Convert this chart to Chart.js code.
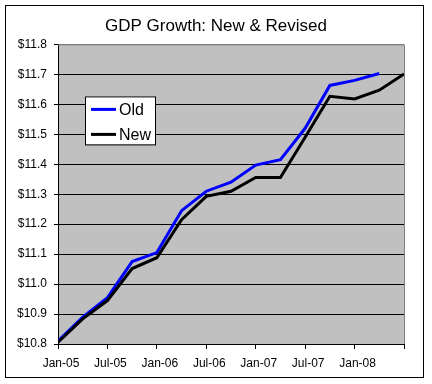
<!DOCTYPE html>
<html>
<head>
<meta charset="utf-8">
<script src="https://cdn.jsdelivr.net/npm/chart.js@4"></script>
<style>
  body { margin: 0; background: #fff; }
  #wrap { width: 432px; height: 384px; }
</style>
</head>
<body>
<div id="wrap"><canvas id="gdpChart" width="432" height="384"></canvas></div>
<script>
// months since Jan-05, one point per quarter
const months = [0, 3, 6, 9, 12, 15, 18, 21, 24, 27, 30, 33, 36, 39, 42];
const tickLabels = ["Jan-05", "Jul-05", "Jan-06", "Jul-06", "Jan-07", "Jul-07", "Jan-08"];
const oldGdp = [10.81, 10.89, 10.955, 11.075, 11.105, 11.245, 11.31, 11.34, 11.397, 11.415, 11.52, 11.663, 11.68, 11.703];
const newGdp = [10.806, 10.884, 10.945, 11.052, 11.088, 11.215, 11.293, 11.31, 11.356, 11.356, 11.49, 11.627, 11.618, 11.647, 11.701];

const FONT = "'Liberation Sans', Arial, sans-serif";

function toPoints(values) {
  return values.map((v, i) => ({ x: months[i], y: v }));
}

const frame = {
  id: "frame",
  beforeDraw(chart) {
    const { ctx, chartArea: a } = chart;
    ctx.save();
    ctx.fillStyle = "#fff";
    ctx.fillRect(0, 0, chart.width, chart.height);
    ctx.fillStyle = "#c0c0c0";
    ctx.fillRect(a.left, a.top, a.right - a.left, a.bottom - a.top);
    ctx.restore();
  },
  afterDraw(chart) {
    const { ctx, chartArea: a } = chart;
    ctx.save();
    // plot border top/right
    ctx.strokeStyle = "#808080";
    ctx.lineWidth = 1;
    ctx.beginPath();
    ctx.moveTo(a.left, a.top + 0.5);
    ctx.lineTo(a.right + 0.5, a.top + 0.5);
    ctx.lineTo(a.right + 0.5, a.bottom);
    ctx.stroke();

    // legend box inside the plot
    const lx = a.left + 27, ly = a.top + 52, lw = 70, lh = 48;
    ctx.fillStyle = "#fff";
    ctx.fillRect(lx, ly, lw, lh);
    ctx.strokeStyle = "#000";
    ctx.strokeRect(lx + 0.5, ly + 0.5, lw, lh);
    ctx.font = "16px " + FONT;
    ctx.textBaseline = "middle";
    chart.data.datasets.forEach((ds, i) => {
      const y = ly + 13 + i * 25;
      ctx.strokeStyle = ds.borderColor;
      ctx.lineWidth = 3;
      ctx.beginPath();
      ctx.moveTo(lx + 6, y);
      ctx.lineTo(lx + 31, y);
      ctx.stroke();
      ctx.fillStyle = "#000";
      ctx.fillText(ds.label, lx + 34, y + 1);
    });

    // outer chart border
    ctx.strokeStyle = "#000";
    ctx.lineWidth = 1;
    ctx.strokeRect(5.5, 5.5, 418, 372);
    ctx.restore();
  }
};

new Chart(document.getElementById("gdpChart"), {
  type: "line",
  data: {
    datasets: [
      {
        label: "Old",
        data: toPoints(oldGdp),
        borderColor: "#0000ff",
        borderWidth: 3,
        pointRadius: 0,
        tension: 0,
        order: 1
      },
      {
        label: "New",
        data: toPoints(newGdp),
        borderColor: "#000000",
        borderWidth: 3,
        pointRadius: 0,
        tension: 0,
        order: 0
      }
    ]
  },
  options: {
    responsive: false,
    animation: false,
    layout: { padding: 0 },
    plugins: {
      legend: { display: false },
      tooltip: { enabled: false },
      title: {
        display: true,
        text: "GDP Growth: New & Revised",
        color: "#000",
        font: { family: FONT, size: 17, weight: "normal" },
        padding: { top: 16, bottom: 8 }
      }
    },
    scales: {
      x: {
        type: "linear",
        min: 0,
        max: 42,
        afterFit(scale) { scale.height = 40; },
        afterBuildTicks(scale) {
          scale.ticks = [0, 6, 12, 18, 24, 30, 36, 42].map(v => ({ value: v }));
        },
        ticks: {
          autoSkip: false,
          maxRotation: 0,
          padding: 7,
          labelOffset: 3,
          color: "#000",
          font: { family: FONT, size: 12 },
          callback: (v) => tickLabels[v / 6] || ""
        },
        grid: {
          drawOnChartArea: false,
          drawTicks: true,
          tickLength: 5,
          tickColor: "#000"
        },
        border: { color: "#000", width: 1 }
      },
      y: {
        min: 10.8,
        max: 11.8,
        afterFit(scale) { scale.width = 58; },
        ticks: {
          stepSize: 0.1,
          padding: 7,
          color: "#000",
          font: { family: FONT, size: 12 },
          callback: (v) => "$" + Number(v).toFixed(1)
        },
        grid: {
          color: (c) => (c.tick && c.tick.value > 11.79 ? "#808080" : "#000"),
          tickColor: "#000",
          tickLength: 4,
          lineWidth: 1
        },
        border: { color: "#000", width: 1 }
      },
      pad: {
        position: "right",
        display: true,
        afterFit(scale) { scale.width = 28; },
        ticks: { display: false },
        grid: { display: false },
        border: { display: false }
      }
    }
  },
  plugins: [frame]
});
</script>
</body>
</html>
